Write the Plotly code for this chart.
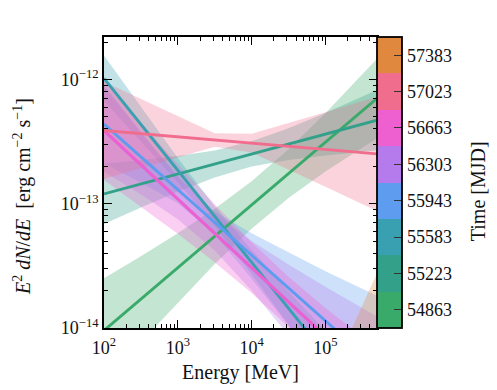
import plotly.graph_objects as go

# Energy grid (MeV) at which band edges were read
energy = [100, 316.2, 1000, 3162, 10000, 31623, 100000, 500000]
line_energy = [100, 500000]

periods = [54863, 55223, 55583, 55943, 56303, 56663, 57023, 57383]
colors = ["#3aaa6a", "#33a08a", "#39a0b2", "#5d9cef", "#b57aec", "#ee5fd0", "#f06d8e", "#e0883e"]

# E^2 dN/dE best-fit line (values at 100 MeV and 500 GeV), erg cm^-2 s^-1
line_54863 = [9.55e-15, 7.05e-13]
line_55223 = [1.20e-13, 4.70e-13]
line_55583 = [1.02e-12, 1.87e-15]
line_55943 = [4.37e-13, 4.89e-15]
line_56303 = [3.89e-13, 3.53e-15]
line_56663 = [3.89e-13, 3.53e-15]
line_57023 = [3.89e-13, 2.52e-13]
line_57383 = [1.45e-19, 3.98e-15]

# Butterfly upper / lower edges at the energy grid
up_54863 = [2.51e-14, 3.78e-14, 5.79e-14, 9.12e-14, 1.52e-13, 2.74e-13, 5.36e-13, 1.47e-12]
lo_54863 = [3.63e-15, 7.71e-15, 1.61e-14, 3.27e-14, 6.30e-14, 1.11e-13, 1.82e-13, 3.37e-13]
up_55223 = [2.11e-13, 2.24e-13, 2.42e-13, 2.68e-13, 3.18e-13, 4.05e-13, 5.37e-13, 8.22e-13]
lo_55223 = [6.86e-14, 9.33e-14, 1.25e-13, 1.63e-13, 1.99e-13, 2.25e-13, 2.45e-13, 2.69e-13]
up_55583 = [1.56e-12, 5.97e-13, 2.33e-13, 9.55e-14, 4.24e-14, 1.98e-14, 9.40e-15, 3.37e-15]
lo_55583 = [6.71e-13, 3.19e-13, 1.49e-13, 6.61e-14, 2.71e-14, 1.06e-14, 4.05e-15, 1.04e-15]
up_55943 = [9.04e-13, 3.79e-13, 1.65e-13, 8.67e-14, 5.79e-14, 4.06e-14, 2.86e-14, 1.82e-14]
lo_55943 = [2.11e-13, 1.48e-13, 1.01e-13, 5.65e-14, 2.49e-14, 1.05e-14, 4.40e-15, 1.32e-15]
up_56303 = [8.77e-13, 3.74e-13, 1.67e-13, 8.45e-14, 5.01e-14, 3.24e-14, 2.15e-14, 1.24e-14]
lo_56303 = [1.81e-13, 1.19e-13, 7.52e-14, 4.20e-14, 2.00e-14, 8.71e-15, 3.69e-15, 1.09e-15]
up_56663 = [9.75e-13, 4.47e-13, 2.07e-13, 9.89e-14, 4.91e-14, 2.58e-14, 1.45e-14, 6.89e-15]
lo_56663 = [1.55e-13, 9.51e-14, 5.74e-14, 3.38e-14, 1.91e-14, 1.02e-14, 5.11e-15, 1.81e-15]
up_57023 = [9.59e-13, 6.95e-13, 5.05e-13, 3.70e-13, 3.66e-13, 4.46e-13, 5.46e-13, 7.28e-13]
lo_57023 = [1.58e-13, 1.94e-13, 2.37e-13, 2.87e-13, 2.59e-13, 1.89e-13, 1.37e-13, 8.73e-14]
up_57383 = [4.27e-19, 1.91e-18, 8.51e-18, 3.80e-17, 1.70e-16, 7.59e-16, 3.39e-15, 2.75e-14]
lo_57383 = [8.51e-21, 3.80e-20, 1.70e-19, 7.59e-19, 3.39e-18, 1.51e-17, 6.76e-17, 5.50e-16]

lines = [line_54863, line_55223, line_55583, line_55943, line_56303, line_56663, line_57023, line_57383]
uppers = [up_54863, up_55223, up_55583, up_55943, up_56303, up_56663, up_57023, up_57383]
lowers = [lo_54863, lo_55223, lo_55583, lo_55943, lo_56303, lo_56663, lo_57023, lo_57383]


def rgba(hexcol, a):
    h = hexcol.lstrip("#")
    r, g, b = int(h[0:2], 16), int(h[2:4], 16), int(h[4:6], 16)
    return f"rgba({r},{g},{b},{a})"


FONT = "Liberation Serif"
TXT = "#111"
fig = go.Figure()

for per, col, up, lo in zip(periods, colors, uppers, lowers):
    fig.add_trace(go.Scatter(
        x=energy + energy[::-1], y=up + lo[::-1],
        fill="toself", fillcolor=rgba(col, 0.3), line=dict(width=0),
        mode="lines", hoverinfo="skip", showlegend=False))

for per, col, ln in zip(periods, colors, lines):
    fig.add_trace(go.Scatter(
        x=line_energy, y=ln, mode="lines",
        line=dict(color=col, width=2.9), showlegend=False, name=str(per)))

# discrete colour bar
step = 360
cmin = periods[0] - step / 2
cmax = periods[-1] + step / 2
n = len(colors)
cscale = []
for i, c in enumerate(colors):
    cscale.append([i / n, c])
    cscale.append([(i + 1) / n, c])

fig.add_trace(go.Scatter(
    x=[1.0], y=[1e-13], mode="markers", showlegend=False, hoverinfo="skip",
    marker=dict(color=[periods[0]], colorscale=cscale, cmin=cmin, cmax=cmax,
                showscale=True, size=1,
                colorbar=dict(
                    x=1.0, xanchor="left", xpad=0, xref="paper",
                    y=0.5, yanchor="middle", ypad=0, len=1, lenmode="fraction",
                    thickness=25, outlinewidth=1.8, outlinecolor="black",
                    tickmode="array", tickvals=periods,
                    ticktext=[str(p) for p in periods],
                    ticks="inside", ticklen=8, tickwidth=1.2, tickcolor="#333",
                    tickfont=dict(family=FONT, size=18, color=TXT),
                ))))

minor_x = [m * 10 ** d for d in range(2, 6) for m in range(2, 10)]
minor_y = [m * 10 ** d for d in range(-14, -11) for m in range(2, 10)]

fig.update_xaxes(
    type="log", range=[2, 5.699], automargin=False,
    tickmode="array", tickvals=[1e2, 1e3, 1e4, 1e5],
    ticktext=["10<sup>2</sup>", "10<sup>3</sup>", "10<sup>4</sup>", "10<sup>5</sup>"],
    ticks="inside", ticklen=8, tickwidth=1.2, tickcolor="black",
    ticklabelstandoff=2,
    minor=dict(ticks="inside", ticklen=4, tickwidth=1, tickcolor="black", tickvals=minor_x, showgrid=False),
    showline=True, linecolor="black", linewidth=1.8, mirror="allticks",
    showgrid=False, zeroline=False,
    tickfont=dict(family=FONT, size=18, color=TXT),
    title=dict(text="Energy [MeV]", font=dict(family=FONT, size=20, color=TXT), standoff=8),
)
fig.update_yaxes(
    type="log", range=[-14, -11.658], automargin=False,
    tickmode="array", tickvals=[1e-14, 1e-13, 1e-12],
    ticktext=["10<sup>−14</sup>", "10<sup>−13</sup>", "10<sup>−12</sup>"],
    ticks="inside", ticklen=8, tickwidth=1.2, tickcolor="black",
    minor=dict(ticks="inside", ticklen=4, tickwidth=1, tickcolor="black", tickvals=minor_y, showgrid=False),
    showline=True, linecolor="black", linewidth=1.8, mirror="allticks",
    showgrid=False, zeroline=False,
    tickfont=dict(family=FONT, size=18, color=TXT),
)

fig.update_layout(
    width=497, height=390,
    margin=dict(l=104, r=120, t=37, b=62, autoexpand=False),
    paper_bgcolor="white", plot_bgcolor="white",
    showlegend=False,
    annotations=[
        dict(text="<i>E</i><sup>2</sup> <i>dN</i>/<i>dE</i>  [erg cm<sup>−2</sup> s<sup>−1</sup>]",
             xref="paper", yref="paper", x=0, y=0.45, xshift=-82,
             xanchor="center", yanchor="middle", textangle=-90, showarrow=False,
             font=dict(family=FONT, size=20, color=TXT)),
        dict(text="Time [MJD]",
             xref="paper", yref="paper", x=1, y=0.47, xshift=101,
             xanchor="center", yanchor="middle", textangle=-90, showarrow=False,
             font=dict(family=FONT, size=20, color=TXT)),
    ],
)

fig.write_html("out.html")
